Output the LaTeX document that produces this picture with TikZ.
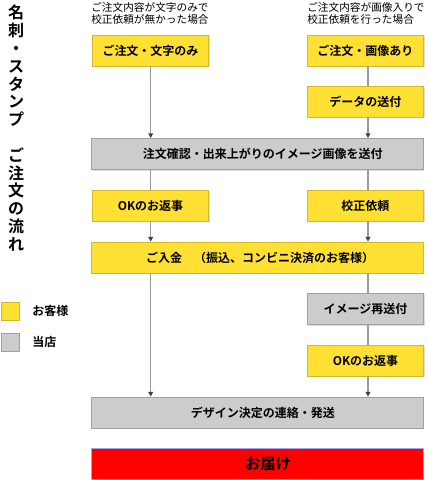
\documentclass[tikz,border=0pt]{standalone}
\usepackage{fontspec}
\setmainfont{Noto Sans CJK JP}[BoldFont={Noto Sans CJK JP Bold}]
\usetikzlibrary{arrows.meta,shadows}
\definecolor{ylw}{HTML}{FFE033}
\definecolor{ylwline}{HTML}{D2B92A}
\definecolor{gry}{HTML}{CCCCCC}
\definecolor{gryline}{HTML}{A0A0A0}
\definecolor{lnk}{HTML}{9A9A9A}
\definecolor{redbox}{HTML}{FF0000}
\definecolor{redline}{HTML}{A8A0FF}
\tikzset{
  boxbase/.style={rectangle, inner sep=0pt, font=\bfseries\fontsize{9}{10}\selectfont,
    drop shadow={shadow xshift=1pt, shadow yshift=-1pt, opacity=0.25}},
  ybox/.style={boxbase, fill=ylw, draw=ylwline, line width=0.6pt},
  gbox/.style={boxbase, fill=gry, draw=gryline, line width=0.6pt},
  narrow/.style={minimum width=87.5pt, minimum height=23.25pt},
  wide/.style={minimum width=248.5pt, minimum height=23.25pt},
  link/.style={draw=lnk, line width=1pt},
  alink/.style={link, -{Triangle[length=3.5pt,width=3.5pt,color=black!75]}},
  header/.style={font=\fontsize{8}{8.6}\selectfont, align=left, anchor=west, inner sep=0pt},
  legendsq/.style={rectangle, inner sep=0pt, minimum width=13.5pt, minimum height=13.5pt, line width=0.5pt},
  legendtx/.style={font=\bfseries\fontsize{9}{10}\selectfont, anchor=west, inner sep=0pt}
}
\begin{document}
\begin{tikzpicture}[x=0.75pt,y=-0.75pt]
\useasboundingbox (0,0) rectangle (428,480);

% title
\node[font=\bfseries\fontsize{12}{13.35}\selectfont, align=center, anchor=north, inner sep=0pt] (title) at (16,5)
  {名\\刺\\・\\ス\\タ\\ン\\プ\\　\\ご\\注\\文\\の\\流\\れ};

% headers
\node[header] (hl) at (91,13.5) {ご注文内容が文字のみで\\校正依頼が無かった場合};
\node[header] (hr) at (307,13.5) {ご注文内容が画像入りで\\校正依頼を行った場合};

% boxes
\node[ybox, narrow] (a) at (150.5,50.5) {ご注文・文字のみ};
\node[ybox, narrow] (b) at (365.5,50.5) {ご注文・画像あり};
\node[ybox, narrow] (d) at (365.5,101.5) {データの送付};
\node[gbox, wide] (c) at (257.5,154) {\hspace*{8pt}注文確認・出来上がりのイメージ画像を送付};
\node[ybox, narrow] (e) at (150.5,205.5) {OKのお返事};
\node[ybox, narrow] (f) at (365.5,205.5) {校正依頼};
\node[ybox, wide] (g) at (257.5,257.5) {\hspace*{4pt}ご入金　（振込、コンビニ決済のお客様）};
\node[gbox, narrow] (h) at (365.5,309) {イメージ再送付};
\node[ybox, narrow] (i) at (365.5,360.5) {OKのお返事};
\node[gbox, wide] (j) at (257.5,412.5) {\hspace*{8pt}デザイン決定の連絡・発送};
\node[boxbase, wide, fill=redbox, draw=redline, line width=0.6pt, font=\bfseries\fontsize{11.5}{12}\selectfont] (k) at (257.5,463.5) {\hspace*{16pt}お届け};

% connector columns
\coordinate (cl) at (150.7,0);
\coordinate (cr) at (368,0);

% left column
\draw[alink] (a.south -| cl) -- (c.north -| cl);
\draw[link] (c.south -| cl) -- (e.north -| cl);
\draw[alink] (e.south -| cl) -- (g.north -| cl);
\draw[alink] (g.south -| cl) -- (j.north -| cl);

% right column
\draw[link] (b.south -| cr) -- (d.north -| cr);
\draw[alink] (d.south -| cr) -- (c.north -| cr);
\draw[link] (c.south -| cr) -- (f.north -| cr);
\draw[alink] (f.south -| cr) -- (g.north -| cr);
\draw[link] (g.south -| cr) -- (h.north -| cr);
\draw[link] (h.south -| cr) -- (i.north -| cr);
\draw[alink] (i.south -| cr) -- (j.north -| cr);

% legend
\node[legendsq, fill=ylw, draw=ylwline] (ly) at (10,311) {};
\node[legendtx] (lyt) at (32,311) {お客様};
\node[legendsq, fill=gry, draw=gryline] (lg) at (10,342) {};
\node[legendtx] (lgt) at (32,342) {当店};
\end{tikzpicture}
\end{document}
